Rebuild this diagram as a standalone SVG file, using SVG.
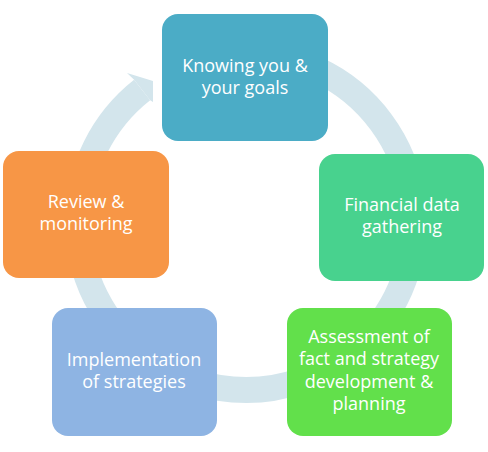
<svg xmlns="http://www.w3.org/2000/svg" width="488" height="452" viewBox="0 0 488 452">
<style>
.t{font-family:"Open Sans","Noto Sans",sans-serif;font-size:18px;fill:#ffffff;text-anchor:middle}
.ring{fill:none;stroke:#D3E5EC;stroke-width:26}
</style>
<rect width="488" height="452" fill="#ffffff"/>
<g id="connectors">
<path class="ring" d="M246,54 A168,168 0 1 1 142.1,90.0"/>
<polygon points="127,73 153,81 153,102 150.1,100.2 134.1,79.8" fill="#D3E5EC"/>
</g>
<g id="n1">
<rect x="162" y="14" width="166" height="127" rx="16" fill="#4BACC6"/>
<text class="t" x="245" y="72">Knowing you &amp;</text>
<text class="t" x="245" y="94">your goals</text>
</g>
<g id="n2">
<rect x="319" y="154" width="165" height="127" rx="16" fill="#48D28E"/>
<text class="t" x="402" y="211">Financial data</text>
<text class="t" x="402" y="233">gathering</text>
</g>
<g id="n3">
<rect x="287" y="308" width="165" height="128" rx="16" fill="#62E04B"/>
<text class="t" x="369" y="343">Assessment of</text>
<text class="t" x="369" y="365">fact and strategy</text>
<text class="t" x="369" y="388">development &amp;</text>
<text class="t" x="369" y="410">planning</text>
</g>
<g id="n4">
<rect x="52" y="308" width="165" height="128" rx="16" fill="#8EB4E3"/>
<text class="t" x="134" y="366">Implementation</text>
<text class="t" x="134" y="388">of strategies</text>
</g>
<g id="n5">
<rect x="3" y="151" width="166" height="127" rx="16" fill="#F79646"/>
<text class="t" x="86" y="208">Review &amp;</text>
<text class="t" x="86" y="230">monitoring</text>
</g>
</svg>
